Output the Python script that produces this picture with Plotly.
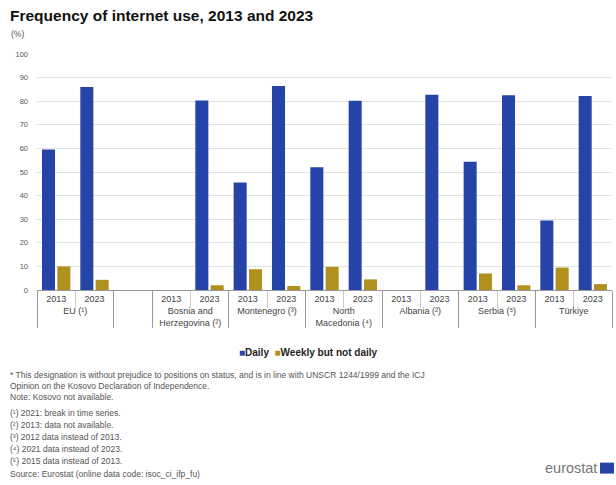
import plotly.graph_objects as go

groups = ["EU (¹)", "EU (¹)", " ", "Bosnia and<br>Herzegovina (²)", "Bosnia and<br>Herzegovina (²)",
          "Montenegro (³)", "Montenegro (³)", "North<br>Macedonia (⁴)", "North<br>Macedonia (⁴)",
          "Albania (²)", "Albania (²)", "Serbia (⁵)", "Serbia (⁵)", "Türkiye", "Türkiye"]
years = ["2013", "2023", " ", "2013", "2023", "2013", "2023", "2013", "2023",
         "2013", "2023", "2013", "2023", "2013", "2023"]
daily = [59.5, 86, None, None, 80.3, 45.5, 86.4, 52, 80.2, None, 82.7, 54.3, 82.5, 29.5, 82.2]
weekly = [10, 4.3, None, None, 2, 8.8, 1.7, 9.8, 4.5, None, None, 7, 2, 9.5, 2.5]

series_names = ["Daily", "Weekly but not daily"]
colors = ["#2644A7", "#B09120"]

title = "Frequency of internet use, 2013 and 2023"
footnotes = [
    "* This designation is without prejudice to positions on status, and is in line with UNSCR 1244/1999 and the ICJ",
    "Opinion on the Kosovo Declaration of Independence.",
    "Note: Kosovo not available.",
    "(¹) 2021: break in time series.",
    "(²) 2013: data not available.",
    "(³) 2012 data instead of 2013.",
    "(⁴) 2021 data instead of 2023.",
    "(⁵) 2015 data instead of 2013.",
    "Source: Eurostat (online data code: isoc_ci_ifp_fu)",
]
foot_y = [375, 386, 397, 413, 425, 437, 449, 461, 474]

W, H = 616, 485
ml, mr = 37, 4
mt, mb = 53.5, 195
pw = W - ml - mr
ph = H - mt - mb

FONT = "Liberation Sans, Arial, sans-serif"

fig = go.Figure()
for name, vals, col in zip(series_names, [daily, weekly], colors):
    fig.add_trace(go.Bar(x=[groups, years], y=vals, name=name, marker_color=col,
                         marker_line_width=0, showlegend=False))


def py(pix):
    return 1 - (pix - mt) / ph


def px(pix):
    return (pix - ml) / pw


fig.update_layout(
    width=W, height=H,
    margin=dict(l=ml, r=mr, t=mt, b=mb, autoexpand=False),
    paper_bgcolor="white", plot_bgcolor="white",
    font=dict(family=FONT, size=8, color="#444"),
    barmode="group", bargap=0.2, bargroupgap=0.15,
    showlegend=False,
    xaxis=dict(type="multicategory", showline=True, linecolor="#999", linewidth=1,
               ticks="outside", ticklen=17, tickcolor="#ccc", tickson="boundaries",
               showdividers=True, dividercolor="#999", dividerwidth=1,
               tickfont=dict(size=9, color="#444"), showgrid=False, automargin=False),
    yaxis=dict(range=[0, 100], dtick=10, showgrid=True, gridcolor="#e3e3e3", gridwidth=1,
               zeroline=False, tickfont=dict(size=7.5, color="#555"), ticks="",
               ticklabelstandoff=8, automargin=False),
)

ann = []
ann.append(dict(text="<b>" + title + "</b>", xref="paper", yref="paper",
                x=px(8), y=py(15), xanchor="left", yanchor="middle",
                showarrow=False, font=dict(size=15.5, color="#111", family=FONT)))
ann.append(dict(text="(%)", xref="paper", yref="paper", x=px(9),
                y=py(33), xanchor="left", yanchor="middle", showarrow=False,
                font=dict(size=8.5, color="#555")))
# legend
legend_text = ("<span style='color:%s'>■</span>%s  <span style='color:%s'>■</span>%s"
               % (colors[0], series_names[0], colors[1], series_names[1]))
ann.append(dict(text="<b>" + legend_text + "</b>", xref="paper", yref="paper",
                x=px(237), y=py(353), xanchor="left", yanchor="middle", showarrow=False,
                font=dict(size=10, color="#222")))
for t, yy in zip(footnotes, foot_y):
    ann.append(dict(text=t, xref="paper", yref="paper", x=px(8),
                    y=py(yy), xanchor="left", yanchor="middle", showarrow=False,
                    font=dict(size=8.5, color="#555")))
ann.append(dict(text="eurostat", xref="paper", yref="paper", x=px(599),
                y=py(468), xanchor="right", yanchor="middle", showarrow=False,
                font=dict(size=14.5, color="#777")))
fig.update_layout(annotations=ann)
fig.add_shape(type="rect", xref="paper", yref="paper",
              x0=px(600), x1=px(614), y0=py(474), y1=py(463),
              fillcolor="#2644A7", line_width=0)

fig.write_html("out.html", config={"displayModeBar": False},
               post_script="document.body.style.margin='0';document.body.style.overflow='hidden';")
